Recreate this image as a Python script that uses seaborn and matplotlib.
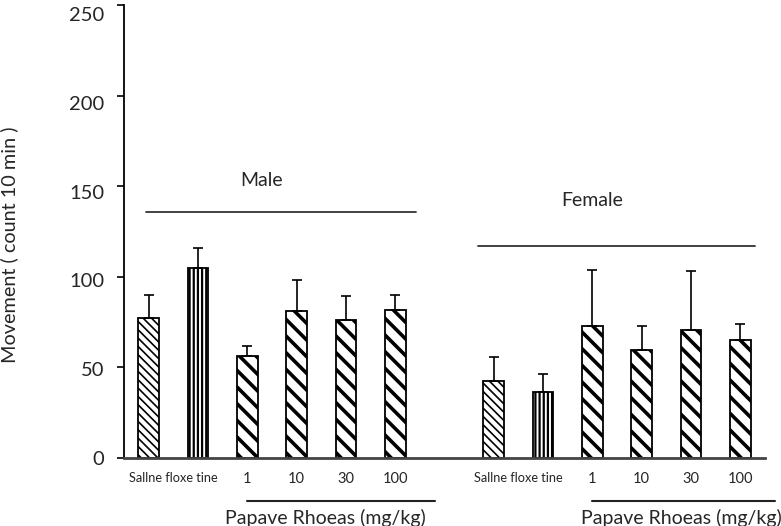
import seaborn as sns
import matplotlib.pyplot as plt
import matplotlib.transforms as mtransforms
from matplotlib.lines import Line2D
import numpy as np
import pandas as pd

# Values (mean and upper error bar, count per 10 min)
treatments = ['Saline', 'Fluoxetine', '1', '10', '30', '100']
male_mean = [77, 105, 56.5, 81, 76, 81.5]
male_sem = [13, 11, 5.5, 17.5, 13.5, 8.5]
female_mean = [42.5, 36.5, 73, 59.5, 70.5, 65]
female_sem = [13, 10, 31, 13.5, 32.5, 9]

tick_labels = ['Sallne floxe tine', '1', '10', '30', '100']
y_ticks = [0, 50, 100, 150, 200, 250]

# hatch pattern and hatch line width per treatment
hatches = {'Saline': ('\\\\\\\\', 1.2), 'Fluoxetine': ('||||', 1.6)}
dose_hatch = ('\\\\', 2.6)

sns.set_style('ticks')
plt.rcParams['font.family'] = ['Lato', 'DejaVu Sans']
text_color = '#262626'

# Build one table, male slots 0-5, a blank slot, then female slots 7-12
slot = np.arange(len(treatments))
df = pd.concat([
    pd.DataFrame({'sex': 'Male', 'treatment': treatments, 'mean': male_mean,
                  'sem': male_sem, 'pos': slot}),
    pd.DataFrame({'sex': 'Female', 'treatment': treatments, 'mean': female_mean,
                  'sem': female_sem, 'pos': slot + len(treatments) + 1}),
], ignore_index=True)

fig = plt.figure(figsize=(7.81, 5.26), dpi=100)
ax = fig.add_axes([0.1588, 0.1293, 0.8207, 0.8612])

sns.barplot(data=df, x='pos', y='mean', native_scale=True, width=0.42,
            color='white', edgecolor='black', linewidth=1.3, saturation=1,
            errorbar=None, ax=ax)

# Hatching per bar
for patch, treat in zip(ax.patches, df['treatment']):
    h, lw = hatches.get(treat, dose_hatch)
    patch.set_hatch(h)
    if hasattr(patch, 'set_hatch_linewidth'):
        patch.set_hatch_linewidth(lw)

# Upper error bars only
ax.errorbar(df['pos'], df['mean'], yerr=[np.zeros(len(df)), df['sem']],
            fmt='none', ecolor='black', elinewidth=1.2, capsize=3.4,
            capthick=1.2, zorder=3)

ax.set_xlim(-0.5, 12.5)
ax.set_ylim(0, 250)
ax.set_yticks(y_ticks)
ax.set_yticklabels([str(t) for t in y_ticks], fontsize=14.5, color=text_color)

n = len(treatments)
xt = [0.5] + list(slot[2:])
xt = xt + [x + n + 1 for x in xt]
ax.set_xticks(xt)
ax.set_xticklabels(tick_labels * 2, fontsize=10.5, color=text_color)
for lab in ax.get_xticklabels():
    if lab.get_text().startswith('Sallne'):
        lab.set_fontsize(9.2)
ax.tick_params(axis='x', length=0, pad=10)
ax.tick_params(axis='y', length=5, width=1.2, color='black', pad=9)

# labels sit a little lower than their ticks, more so higher up
for lab, v in zip(ax.get_yticklabels(), y_ticks):
    off = mtransforms.ScaledTranslation(0, -v / 250 * 9 / 100, fig.dpi_scale_trans)
    lab.set_transform(lab.get_transform() + off)

ax.set_xlabel('')
ax.set_ylabel('Movement ( count 10 min )', fontsize=14.3, color=text_color)
ax.yaxis.set_label_coords(-0.165, 0.47)
sns.despine(ax=ax)
ax.spines['left'].set_linewidth(1.3)
ax.spines['left'].set_color('black')
ax.spines['bottom'].set_linewidth(2)
ax.spines['bottom'].set_color('#444444')

# Group headings with their bracket lines
ax.text(2.29, 153, 'Male', fontsize=14, ha='center', va='center', color=text_color)
ax.plot([-0.06, 5.43], [135.5, 135.5], color='#333333', lw=1.3)
ax.text(8.99, 142, 'Female', fontsize=14, ha='center', va='center', color=text_color)
ax.plot([6.68, 12.3], [117, 117], color='#333333', lw=1.3)

# Dose bracket lines and captions under the axis
for x0, x1, xc in [(0.316, 0.557, 0.416), (0.758, 0.992, 0.872)]:
    fig.add_artist(Line2D([x0, x1], [0.048, 0.048], color='#222222', lw=1.5))
    fig.text(xc, 0.016, 'Papave Rhoeas (mg/kg)', fontsize=14, ha='center',
             va='center', color=text_color)

fig.savefig('out.png', dpi=100)
